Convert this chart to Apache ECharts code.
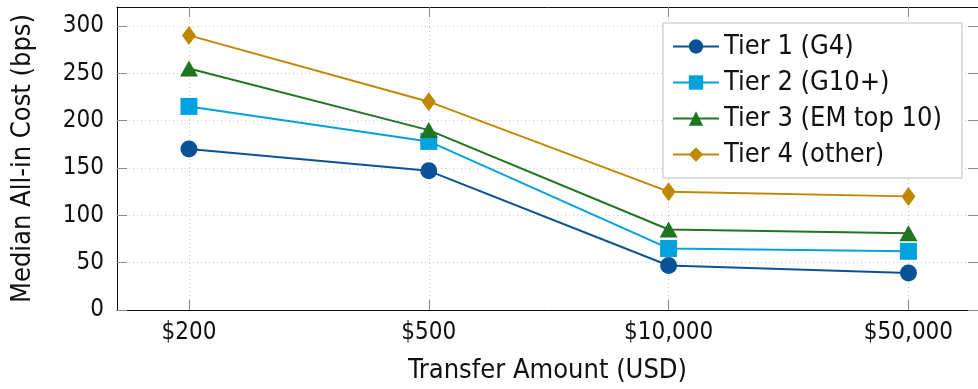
<!DOCTYPE html>
<html>
<head>
<meta charset="utf-8">
<style>
  html, body { margin: 0; padding: 0; background: #fff; }
  #chart { width: 978px; height: 389px; }
</style>
<script src="https://cdn.jsdelivr.net/npm/echarts@6/dist/echarts.min.js"></script>
</head>
<body>
<div id="chart"></div>
<script>
// Transfer-size buckets along the x axis
const amounts = ['$200', '$500', '$10,000', '$50,000'];
// Y axis tick values (bps)
const yTicks = [0, 50, 100, 150, 200, 250, 300];

// Median all-in cost per corridor tier (bps)
const tier1 = [170, 147, 47, 39];
const tier2 = [215, 178, 65, 62];
const tier3 = [255, 190, 85, 81];
const tier4 = [290, 220, 125, 120];

const seriesNames = ['Tier 1 (G4)', 'Tier 2 (G10+)', 'Tier 3 (EM top 10)', 'Tier 4 (other)'];

const FONT = '"DejaVu Sans Condensed", "DejaVu Sans", sans-serif';
const xIdx = amounts.map((_, i) => i);

function toPoints(vals) {
  return vals.map((v, i) => [i, v]);
}

const gridLine = { show: true, lineStyle: { color: '#c8c8c8', type: [1, 3], width: 1 } };
const tickStyle = { lineStyle: { color: '#8a8a8a', width: 1 } };
const frameLine = { show: true, onZero: false, lineStyle: { color: '#111', width: 1 } };
const noLine = { show: false, onZero: false };

const styles = [
  { color: '#0a5294', symbol: 'circle', size: 17 },
  { color: '#00a2de', symbol: 'rect', size: 17 },
  { color: '#1f7520', symbol: 'triangle', size: [18, 16] },
  { color: '#bf8800', symbol: 'diamond', size: [14, 19] }
];

const chart = echarts.init(document.getElementById('chart'), null, { renderer: 'canvas' });

chart.setOption({
  animation: false,
  backgroundColor: '#fff',
  textStyle: { fontFamily: FONT },
  grid: { left: 117, right: 0, top: 7, bottom: 78, show: false },
  legend: {
    orient: 'vertical',
    left: 663, top: 23,
    padding: [10, 20, 10, 9],
    itemGap: 9,
    itemWidth: 46,
    itemHeight: 18,
    backgroundColor: '#fff',
    borderColor: '#bdbdbd',
    borderWidth: 1,
    borderRadius: 0,
    textStyle: { fontFamily: FONT, fontSize: 27, color: '#111', lineHeight: 27 },
    data: seriesNames
  },
  xAxis: [
    {
      type: 'value', min: -0.3, max: 3.29, position: 'bottom',
      name: 'Transfer Amount (USD)', nameLocation: 'middle', nameGap: 47,
      nameTextStyle: { fontFamily: FONT, fontSize: 27, color: '#111' },
      axisLine: frameLine,
      axisTick: { show: true, inside: true, length: 10, customValues: xIdx, ...tickStyle },
      axisLabel: {
        customValues: xIdx, margin: 11, fontSize: 24, color: '#111', fontFamily: FONT,
        formatter: v => amounts[Math.round(v)] || ''
      },
      splitLine: gridLine
    },
    {
      type: 'value', min: -0.3, max: 3.29, position: 'top',
      axisLine: frameLine,
      axisTick: { show: true, inside: true, length: 10, customValues: xIdx, ...tickStyle },
      axisLabel: { show: false },
      splitLine: { show: false }
    }
  ],
  yAxis: [
    {
      type: 'value', min: 0, max: 320, position: 'left',
      name: 'Median All-in Cost (bps)', nameLocation: 'middle', nameGap: 81,
      nameTextStyle: { fontFamily: FONT, fontSize: 27, color: '#111' },
      axisLine: frameLine,
      axisTick: { show: true, inside: true, length: 10, customValues: yTicks, ...tickStyle },
      axisLabel: { customValues: yTicks, margin: 13, fontSize: 24, color: '#111', fontFamily: FONT },
      splitLine: gridLine
    },
    {
      // right-hand frame edge falls just outside the canvas; only its ticks show
      type: 'value', min: 0, max: 320, position: 'right',
      axisLine: noLine,
      axisTick: { show: true, inside: true, length: 10, customValues: yTicks, ...tickStyle },
      axisLabel: { show: false },
      splitLine: { show: false }
    }
  ],
  series: [tier1, tier2, tier3, tier4].map((vals, k) => ({
    name: seriesNames[k],
    type: 'line',
    xAxisIndex: 0,
    yAxisIndex: 0,
    data: toPoints(vals),
    symbol: styles[k].symbol,
    symbolSize: styles[k].size,
    showAllSymbol: true,
    color: styles[k].color,
    lineStyle: { color: styles[k].color, width: 2 },
    itemStyle: { color: styles[k].color },
    emphasis: { disabled: true },
    z: 3 + k
  }))
});
</script>
</body>
</html>
